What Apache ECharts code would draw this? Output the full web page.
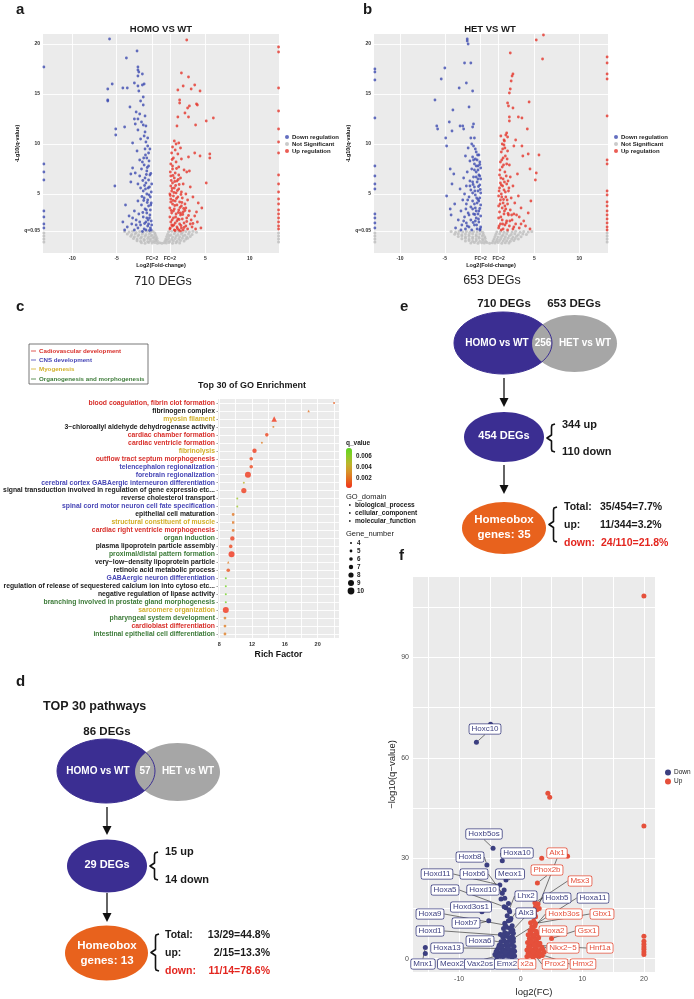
<!DOCTYPE html>
<html>
<head>
<meta charset="utf-8">
<script src="https://cdn.jsdelivr.net/npm/echarts@6/dist/echarts.min.js"></script>
<style>
  html, body { margin: 0; padding: 0; background: #fff; }
  #main { width: 694px; height: 999px; }
</style>
</head>
<body>
<div id="main"></div>
<script>
// ---------- panel a : HOMO vs WT volcano ----------
const aDown = [[-13.2,17.7],[-13.2,8.0],[-13.2,7.2],[-13.2,6.4],[-13.2,3.3],[-13.2,2.7],[-13.2,2.0],[-13.2,1.6],
  [-5.8,20.5],[-2.7,19.3],[-3.9,18.6],[-2.6,17.7],[-2.6,17.4],[-2.5,17.2],[-2.1,17.0],[-2.6,16.8],[-5.5,16.0],[-3.0,16.1],
  [-6.0,15.5],[-6.0,14.4],[-6.0,14.3],[-4.3,15.6],[-3.8,15.6],[-2.6,15.8],[-2.1,15.9],[-1.9,16.0],[-2.5,15.3],[-2.0,14.7],
  [-2.3,14.3],[-3.5,13.7],[-2.0,13.9],[-2.8,13.2],[-2.4,13.0],[-1.8,12.8],[-3.0,12.5],[-2.6,12.5],[-2.2,12.2],[-2.0,11.9],
  [-1.7,11.8],[-2.9,12.0],[-4.1,11.7],[-5.1,11.5],[-5.1,10.9],[-2.6,11.4],[-1.8,11.2],[-1.9,10.8],[-3.2,10.1],[-2.3,10.5],
  [-1.7,10.2],[-1.5,9.8],[-1.8,9.5],[-2.7,9.3],[-1.4,9.1],[-1.6,8.6],[-2.4,8.4],[-2.1,8.2],[-1.9,7.9],[-1.4,7.8],[-2.2,7.5],
  [-1.6,7.3],[-3.2,7.6],[-3.4,7.0],[-2.9,7.1],[-2.4,6.8],[-1.8,6.6],[-1.4,6.4],[-3.4,6.2],[-2.6,6.0],[-1.7,6.1],[-5.2,5.8],
  [-2.3,5.6],[-1.3,5.7],[-1.1,5.2],[-1.6,5.0],[-2.0,5.3],[-1.2,4.7],[-1.5,4.4],[-1.9,4.6],[-2.6,4.3],[-1.1,4.1],[-1.4,3.8],
  [-1.8,3.5],[-2.2,3.9],[-4.0,3.9],[-3.0,3.3],[-1.2,3.4],[-1.6,3.1],[-2.5,3.0],[-3.6,2.8],[-2.0,2.7],[-1.3,2.6],[-1.1,2.3],
  [-1.7,2.2],[-2.8,2.4],[-4.3,2.2],[-3.3,2.0],[-2.3,1.9],[-1.5,1.8],[-1.2,1.6],[-1.9,1.5],[-2.6,1.6],[-3.8,1.7],[-4.1,1.4],
  [-3.0,1.4],[-1.1,1.4],[-1.4,2.0],
  [-1.05,1.9],[-1.25,2.9],[-1.45,2.4],[-1.65,3.4],[-1.85,2.05],[-2.05,3.15],[-1.15,3.9],[-1.35,4.9],[-1.55,4.15],[-1.75,5.5],
  [-1.95,4.35],[-2.15,4.75],[-1.05,6.0],[-1.25,6.9],[-1.45,5.6],[-1.65,6.95],[-1.85,5.85],[-2.05,6.35],[-1.15,7.05],[-1.35,8.3],
  [-1.55,7.65],[-1.75,8.9],[-1.95,8.6],[-1.25,9.5],[-1.5,10.6],[-1.3,1.35],[-1.7,1.4],[-2.4,2.2],[-2.8,1.9],[-3.2,2.6],
  [-2.1,1.25],[-1.6,2.6]];
const aUp = [[13.25,19.7],[13.25,19.2],[13.25,15.6],[13.25,13.3],[13.25,11.5],[13.25,10.2],[13.25,9.1],[13.25,6.9],[13.25,6.0],
  [13.25,5.2],[13.25,4.5],[13.25,4.0],[13.25,3.4],[13.25,3.0],[13.25,2.6],[13.25,2.2],[13.25,1.8],[13.25,1.5],
  [2.9,20.4],[2.3,17.1],[3.1,16.7],[2.5,15.8],[1.9,15.4],[3.8,15.9],[4.4,15.3],[3.4,15.5],[2.1,14.4],[2.1,14.1],[3.2,13.8],
  [3.0,13.6],[4.0,14.0],[4.1,13.9],[2.7,13.1],[1.9,12.7],[3.1,12.7],[5.1,12.3],[5.9,12.6],[3.9,11.9],[1.8,11.8],[1.5,10.3],
  [1.7,10.0],[2.0,10.1],[1.3,9.7],[1.6,9.4],[2.2,9.6],[1.2,9.1],[1.9,9.0],[1.4,8.6],[2.3,8.5],[1.7,8.2],[1.1,8.0],[3.8,9.1],
  [4.4,8.8],[5.5,9.0],[5.5,8.6],[3.1,8.7],[2.0,7.7],[1.3,7.5],[2.6,7.4],[2.9,7.2],[3.2,7.3],[1.6,7.1],[1.1,6.8],[2.2,6.6],
  [1.8,6.3],[1.3,6.1],[5.1,6.1],[2.5,6.0],[1.1,5.8],[1.5,5.6],[2.0,5.5],[1.2,5.3],[1.7,5.1],[2.3,5.2],[1.0,5.0],[1.4,4.8],
  [1.9,4.7],[2.4,4.6],[1.1,4.5],[1.6,4.3],[2.1,4.2],[3.0,4.4],[3.6,4.7],[1.3,4.0],[1.8,3.9],[2.3,3.8],[2.8,3.6],[4.2,4.1],
  [4.6,3.6],[1.0,3.6],[1.5,3.5],[2.0,3.4],[2.5,3.2],[3.2,3.3],[1.2,3.1],[1.7,3.0],[2.2,2.9],[3.8,2.8],[1.0,2.7],[1.4,2.6],
  [1.9,2.5],[2.4,2.5],[2.9,2.6],[3.4,2.4],[1.1,2.2],[1.6,2.1],[2.1,2.0],[2.6,2.1],[4.1,2.2],[1.3,1.8],[1.8,1.7],[2.3,1.6],
  [2.8,1.8],[3.5,1.7],[1.0,1.5],[1.5,1.4],[2.0,1.4],[2.5,1.4],[3.0,1.5],[4.5,1.6],[1.2,1.9],[1.8,2.3],[1.4,3.3],[2.2,3.1],
  [1.1,4.2],[2.7,4.0],[1.5,6.6],[2.0,6.9],[1.3,7.8],[3.3,5.7],[2.8,5.0],[4.0,3.2],[3.3,2.0],
  [1.05,1.6],[1.25,2.4],[1.45,1.9],[1.65,2.7],[1.85,1.55],[2.05,2.45],[2.25,1.85],[2.45,2.95],[1.15,3.35],[1.35,4.35],
  [1.55,3.85],[1.75,4.55],[1.95,3.15],[2.15,3.65],[2.35,4.15],[2.55,3.55],[1.05,4.85],[1.25,5.55],[1.45,5.15],[1.65,5.85],
  [1.85,5.35],[2.05,5.95],[2.25,4.95],[1.15,6.35],[1.35,6.85],[1.55,6.25],[1.75,7.55],[1.95,6.45],[1.05,7.2],[1.25,8.45],
  [2.6,1.65],[2.9,2.25],[3.1,2.85],[2.7,3.35],[3.6,2.05],[3.9,1.5],[2.2,1.3],[1.6,1.35]];
const aGrey = [[-4.1,1.25],[-3.6,1.2],[-3.2,1.28],[-2.8,1.15],[-2.4,1.25],[-2.0,1.2],[-1.6,1.27],[-1.2,1.18],[-0.9,1.25],[-0.7,1.1],
  [0.85,1.22],[1.2,1.28],[1.6,1.2],[2.0,1.26],[2.4,1.15],[2.8,1.24],[3.2,1.2],[3.6,1.27],[4.0,1.18],
  [-3.8,1.0],[-3.3,0.95],[-2.9,1.02],[-2.5,0.92],[-2.1,1.0],[-1.7,0.96],[-1.3,1.03],[-1.0,0.9],[-0.65,0.95],
  [0.75,0.98],[1.1,0.92],[1.5,1.02],[1.9,0.94],[2.3,1.0],[2.7,0.9],[3.1,1.0],[3.5,0.95],
  [-3.4,0.78],[-3.0,0.72],[-2.6,0.8],[-2.2,0.7],[-1.8,0.77],[-1.4,0.72],[-1.1,0.8],[-0.8,0.7],[-0.55,0.76],
  [0.65,0.74],[0.95,0.8],[1.3,0.7],[1.7,0.78],[2.1,0.72],[2.5,0.8],[2.9,0.7],[3.3,0.76],
  [-3.1,0.55],[-2.7,0.5],[-2.3,0.58],[-1.9,0.48],[-1.5,0.55],[-1.2,0.5],[-0.9,0.57],[-0.6,0.48],[-0.45,0.55],
  [0.55,0.5],[0.85,0.56],[1.2,0.48],[1.6,0.55],[2.0,0.5],[2.4,0.57],[2.8,0.5],[3.0,0.58],
  [-2.7,0.32],[-2.3,0.28],[-1.9,0.35],[-1.5,0.26],[-1.2,0.33],[-0.9,0.28],[-0.6,0.34],[-0.4,0.3],
  [0.45,0.3],[0.7,0.35],[1.0,0.27],[1.4,0.33],[1.8,0.28],[2.2,0.34],[2.6,0.29],
  [-2.2,0.12],[-1.8,0.08],[-1.4,0.14],[-1.0,0.1],[-0.7,0.15],[-0.4,0.08],[-0.15,0.12],[0.1,0.07],[0.35,0.13],[0.6,0.09],
  [0.9,0.14],[1.3,0.08],[1.7,0.13],[2.1,0.1],
  [-13.2,0.2],[-13.2,0.5],[-13.2,0.8],[-13.2,1.1],[13.25,0.2],[13.25,0.5],[13.25,0.8],[13.25,1.1]];

// ---------- panel b : HET vs WT volcano ----------
const bDown = [[-12.8,17.5],[-12.8,17.2],[-12.8,16.4],[-12.8,12.6],[-12.8,7.8],[-12.8,6.8],[-12.8,6.0],[-12.8,5.5],[-12.8,3.0],
  [-12.8,2.6],[-12.8,2.1],[-12.8,1.6],
  [-2.5,20.5],[-2.5,20.3],[-2.4,20.0],[-2.8,18.1],[-2.1,18.1],[-5.0,17.6],[-5.4,16.5],[-2.6,16.1],[-3.4,15.6],[-1.9,15.3],
  [-6.1,14.4],[-4.1,13.4],[-2.3,13.7],[-4.5,12.2],[-5.9,11.8],[-5.8,11.5],[-4.2,11.3],[-3.3,11.8],[-3.0,11.8],[-2.9,11.5],
  [-1.8,12.0],[-1.9,11.7],[-4.9,10.6],[-4.8,9.8],[-2.1,10.6],[-1.7,10.6],[-2.0,10.0],[-1.8,9.8],[-2.4,9.6],[-2.7,8.8],
  [-1.5,9.2],[-1.2,8.9],[-1.9,8.7],[-1.4,8.4],[-1.1,8.2],[-2.2,8.3],[-1.7,8.0],[-1.3,7.8],[-1.0,7.6],[-2.0,7.5],[-4.4,7.5],
  [-4.0,7.0],[-2.5,7.2],[-1.5,7.2],[-1.2,6.9],[-1.8,6.7],[-2.9,6.6],[-1.0,6.5],[-2.2,6.3],[-1.4,6.2],[-4.2,6.0],[-1.1,5.9],
  [-2.6,5.8],[-1.7,5.7],[-3.3,5.5],[-2.1,5.4],[-1.3,5.3],[-1.0,5.1],[-2.8,5.0],[-4.8,4.8],[-1.6,4.9],[-2.3,4.7],[-1.1,4.6],
  [-3.0,4.4],[-1.9,4.3],[-1.4,4.1],[-3.9,4.0],[-2.6,4.0],[-1.0,3.9],[-2.1,3.7],[-1.6,3.6],[-4.4,3.5],[-3.2,3.3],[-1.2,3.3],
  [-2.4,3.1],[-1.8,3.0],[-4.3,2.9],[-1.0,2.8],[-2.8,2.7],[-1.5,2.6],[-3.5,2.4],[-2.1,2.4],[-1.2,2.2],[-2.6,2.1],[-3.1,1.9],
  [-1.7,1.9],[-1.0,1.7],[-2.3,1.7],[-3.8,1.6],[-1.4,1.5],[-2.0,1.4],[-3.2,1.4],[-2.7,1.5],[-1.1,1.4],[-1.6,2.3],[-1.3,3.0],
  [-1.9,5.1],[-1.2,4.3],[-1.5,6.7],[-1.3,7.4],[-1.6,8.5],
  [-1.05,1.5],[-1.25,2.5],[-1.45,1.9],[-1.65,2.95],[-1.85,2.15],[-1.1,3.55],[-1.3,4.45],[-1.5,3.3],[-1.7,4.0],[-1.9,3.5],
  [-1.05,5.45],[-1.25,5.75],[-1.45,4.6],[-1.65,5.3],[-1.85,5.95],[-1.1,6.8],[-1.3,6.5],[-1.5,7.8],[-1.7,7.4],[-1.9,6.2],
  [-1.1,7.95],[-1.35,8.9],[-1.6,9.5],[-1.8,8.4],[-2.3,2.9],[-2.5,1.8],[-2.9,2.3],[-2.45,4.4],[-2.65,3.5],[-2.2,5.8]];
const bUp = [[13.1,18.7],[13.1,18.1],[13.1,17.0],[13.1,16.5],[13.1,12.8],[13.1,8.4],[13.1,8.0],[13.1,5.3],[13.1,4.9],[13.1,4.2],
  [13.1,3.8],[13.1,3.3],[13.1,2.9],[13.1,2.5],[13.1,2.1],[13.1,1.7],[13.1,1.4],
  [6.0,20.9],[5.2,20.4],[5.9,18.5],[2.3,19.1],[2.6,17.0],[2.5,16.8],[2.4,16.3],[2.3,15.5],[2.2,15.1],[4.4,14.2],[2.0,14.1],
  [2.1,13.8],[2.6,13.6],[3.2,12.7],[3.6,12.6],[2.2,12.7],[2.2,12.3],[4.2,11.5],[1.9,11.1],[1.8,10.9],[2.0,10.7],[1.6,10.4],
  [2.9,10.4],[1.4,10.0],[3.6,9.8],[2.7,9.8],[1.7,9.6],[1.3,9.2],[2.0,9.3],[4.3,9.0],[3.7,8.8],[5.5,8.9],[1.5,8.6],[1.2,8.2],
  [1.9,8.0],[1.4,7.7],[4.5,7.5],[5.2,7.1],[5.1,6.4],[3.1,7.0],[1.7,7.2],[1.1,6.9],[2.3,6.7],[1.5,6.5],[1.2,6.1],[1.9,6.0],
  [2.6,5.8],[1.1,5.6],[1.6,5.4],[2.1,5.3],[1.3,5.0],[1.0,4.8],[1.8,4.7],[2.4,4.6],[3.2,4.8],[4.6,4.3],[1.2,4.4],[1.5,4.1],
  [2.0,4.0],[2.8,4.1],[1.0,3.8],[1.4,3.6],[1.8,3.5],[2.3,3.4],[3.5,3.6],[4.3,3.1],[1.1,3.2],[1.6,3.0],[2.1,2.9],[2.7,3.0],
  [3.3,2.7],[1.0,2.6],[1.4,2.4],[1.9,2.3],[2.5,2.4],[3.8,2.3],[1.2,2.0],[1.7,1.9],[2.2,1.8],[2.9,2.0],[4.0,1.8],[1.0,1.6],
  [1.5,1.5],[2.0,1.4],[2.6,1.5],[3.3,1.6],[1.3,1.4],[1.7,3.8],[1.3,5.9],[2.2,7.9],[1.6,9.9],
  [1.05,1.8],[1.25,2.7],[1.45,2.0],[1.65,3.3],[1.85,2.1],[2.05,3.05],[2.25,2.3],[1.15,4.0],[1.35,4.7],[1.55,4.45],
  [1.75,5.2],[1.95,4.4],[2.15,5.6],[1.05,5.3],[1.25,6.6],[1.45,5.8],[1.65,6.2],[1.85,6.8],[2.05,6.3],[1.15,7.4],
  [1.35,8.4],[1.55,7.9],[1.75,8.8],[1.95,8.5],[1.45,9.5],[1.65,10.3],[1.25,10.8],[2.45,2.9],[2.7,1.7],[3.0,2.9],
  [3.5,2.0],[4.5,1.5]];
const bGrey = [[-4.3,1.24],[-3.8,1.18],[-3.4,1.27],[-3.0,1.2],[-2.6,1.26],[-2.2,1.17],[-1.8,1.25],[-1.4,1.2],[-1.0,1.27],[-0.75,1.15],
  [0.8,1.2],[1.2,1.26],[1.6,1.17],[2.0,1.25],[2.5,1.2],[2.9,1.27],[3.4,1.18],[3.8,1.24],[4.3,1.2],[4.7,1.26],
  [-3.9,0.97],[-3.5,1.02],[-3.1,0.93],[-2.7,1.0],[-2.3,0.95],[-1.9,1.02],[-1.5,0.92],[-1.1,0.99],[-0.7,0.94],
  [0.7,0.97],[1.1,1.02],[1.5,0.93],[1.9,1.0],[2.4,0.95],[2.8,1.02],[3.2,0.92],[3.7,0.99],[4.1,0.95],
  [-3.5,0.75],[-3.1,0.8],[-2.7,0.72],[-2.3,0.78],[-1.9,0.7],[-1.5,0.77],[-1.2,0.71],[-0.85,0.79],[-0.55,0.73],
  [0.6,0.76],[0.95,0.7],[1.35,0.78],[1.75,0.72],[2.2,0.8],[2.6,0.71],[3.0,0.77],[3.5,0.73],
  [-3.1,0.52],[-2.7,0.57],[-2.3,0.49],[-1.9,0.56],[-1.5,0.5],[-1.15,0.58],[-0.8,0.49],[-0.5,0.55],
  [0.5,0.53],[0.85,0.48],[1.25,0.56],[1.65,0.5],[2.05,0.57],[2.45,0.49],[2.85,0.55],[3.2,0.5],
  [-2.7,0.3],[-2.3,0.35],[-1.9,0.27],[-1.5,0.33],[-1.1,0.28],[-0.75,0.35],[-0.45,0.27],
  [0.4,0.32],[0.75,0.27],[1.1,0.35],[1.5,0.29],[1.9,0.33],[2.3,0.27],[2.7,0.34],
  [-2.1,0.1],[-1.7,0.14],[-1.3,0.07],[-0.9,0.12],[-0.6,0.09],[-0.3,0.14],[0.0,0.08],[0.3,0.13],[0.6,0.1],[0.95,0.15],
  [1.35,0.08],[1.75,0.12],[2.15,0.09],
  [-12.8,0.2],[-12.8,0.5],[-12.8,0.8],[-12.8,1.1],[13.1,0.2],[13.1,0.5],[13.1,0.8],[13.1,1.1]];

const volYTicks = [1.3, 5, 10, 15, 20];
const volXTicks = [-10, -5, -1, 1, 5, 10];

// ---------- panel c : GO enrichment ----------
const goTerms = ['blood coagulation, fibrin clot formation', 'fibrinogen complex', 'myosin filament',
  '3\u2212chloroallyl aldehyde dehydrogenase activity', 'cardiac chamber formation', 'cardiac ventricle formation',
  'fibrinolysis', 'outflow tract septum morphogenesis', 'telencephalon regionalization', 'forebrain regionalization',
  'cerebral cortex GABAergic interneuron differentiation', 'signal transduction involved in regulation of gene expressio etc...',
  'reverse cholesterol transport', 'spinal cord motor neuron cell fate specification', 'epithelial cell maturation',
  'structural constituent of muscle', 'cardiac right ventricle morphogenesis', 'organ induction',
  'plasma lipoprotein particle assembly', 'proximal/distal pattern formation', 'very\u2212low\u2212density lipoprotein particle',
  'retinoic acid metabolic process', 'GABAergic neuron differentiation',
  'regulation of release of sequestered calcium ion into cytoso etc...', 'negative regulation of lipase activity',
  'branching involved in prostate gland morphogenesis', 'sarcomere organization', 'pharyngeal system development',
  'cardioblast differentiation', 'intestinal epithelial cell differentiation'];
const goGroup = [1,0,3,0,1,1,3,1,2,2,2,0,0,2,0,3,1,4,0,4,0,0,2,0,0,4,3,4,1,4];
const goRich = [22.0,18.9,14.7,14.6,13.8,13.2,12.3,11.9,11.9,11.5,11.0,11.0,10.2,10.2,9.7,9.7,9.7,9.6,9.4,9.5,9.1,9.1,8.8,8.8,8.8,8.8,8.8,8.7,8.7,8.7];
const goQ = [0.0015,0.002,0.0005,0.0025,0.0008,0.0025,0.0006,0.0009,0.0009,0.0005,0.0045,0.0006,0.0055,0.0055,0.0022,
  0.0022,0.0020,0.0007,0.0009,0.0004,0.0025,0.0012,0.0068,0.0068,0.0068,0.0068,0.0004,0.0025,0.0025,0.0025];
const goGenes = [4,4,7,4,6,4,7,6,6,9,4,8,4,4,5,5,5,7,6,9,4,6,4,4,4,4,9,5,5,5];
const goDomain = [0,1,1,2,0,0,0,0,0,0,0,0,0,0,0,2,0,0,0,0,1,0,0,0,0,0,0,0,0,0];
const goGroupNames = ['Cadiovascular development', 'CNS development', 'Myogenesis', 'Organogenesis and morphogenesis'];
const goDomainNames = ['biological_process', 'cellular_component', 'molecular_function'];
const qTicks = [0.006, 0.004, 0.002];
const geneTicks = [4, 5, 6, 7, 8, 9, 10];
const richTicks = [8, 12, 16, 20];

// ---------- panel f : homeobox volcano ----------
const fDown = [[-4.9,70],[-15.5,1.5],[-3.9,0.5],[-3.4,0.8],[-2.9,0.6],[-2.4,0.9],[-1.9,0.7],[-1.4,0.5],[-1.0,0.8],[-3.6,1.6],
  [-3.1,1.9],[-2.6,1.7],[-2.1,1.5],[-1.6,1.8],[-1.2,1.4],[-3.8,2.7],[-3.3,3.0],[-2.8,2.6],[-2.3,2.9],[-1.8,2.5],[-1.3,2.8],
  [-1.0,2.2],[-3.5,4.0],[-3.0,3.7],[-2.5,4.1],[-2.0,3.8],[-1.5,4.2],[-1.1,3.6],[-3.2,5.0],[-2.7,5.3],[-2.2,4.9],[-1.7,5.4],
  [-1.2,5.1],[-2.9,6.3],[-2.4,6.7],[-1.9,6.2],[-1.4,6.6],[-3.3,7.2],[-2.6,7.8],[-2.1,7.4],[-1.6,8.0],[-1.2,7.6],[-2.8,9.0],
  [-2.3,9.4],[-1.8,9.1],[-1.4,9.8],[-2.6,10.6],[-2.0,11.3],[-1.6,12.0],[-2.2,12.8],[-1.8,14.0],[-2.4,15.2],[-2.0,16.5],
  [-3.2,17.8],[-2.7,20.5],[-2.2,25.5],[-3.6,3.3],[-4.2,1.2],[-4.0,2.1]];
const fUp = [[1.0,0.6],[1.5,0.9],[2.0,0.5],[2.5,0.8],[3.0,0.6],[3.5,0.9],[1.2,1.6],[1.7,1.9],[2.2,1.5],[2.7,1.8],[3.2,1.4],
  [1.0,2.6],[1.5,2.9],[2.0,2.5],[2.5,2.8],[3.0,2.4],[3.6,2.7],[1.3,3.7],[1.8,4.0],[2.3,3.6],[2.8,3.9],[3.4,3.5],[1.1,4.8],
  [1.6,5.1],[2.1,4.7],[2.6,5.0],[3.1,4.6],[1.4,6.0],[1.9,6.3],[2.4,5.9],[2.9,6.2],[1.2,7.1],[1.7,7.4],[2.2,7.0],[2.7,7.3],
  [1.5,8.3],[2.0,8.6],[2.5,8.2],[1.8,9.5],[2.3,9.8],[1.6,10.7],[2.1,11.2],[2.4,12.5],[2.2,13.6],[2.6,14.6],[2.4,15.5],
  [2.8,16.3],[3.0,15.0],[20,1.2],[20,2.0],[20,2.8],[20,3.5],[20,4.3],[20,5.2],[20,6.7],[20,39.6],[20,108.3],[4.4,49.4],
  [4.7,48.2],[3.4,30.0],[7.6,30.6],[1.3,3.1],[3.8,1.9]];
const fDownGenes = ['Hoxc10','Hoxb5os','Hoxa10','Hoxb8','Meox1','Hoxd11','Hoxb6','Hoxd10','Hoxa5','Lhx2','Hoxd3os1','Alx3',
  'Hoxa9','Hoxb7','Hoxd1','Hoxa6','Hoxa13','Mnx1','Meox2','Vax2os','Emx2','Hoxb5','Hoxa11'];
const fDownFC = [-7.2,-4.5,-3.0,-5.5,-2.4,-3.4,-3.0,-2.6,-2.7,-1.9,-6.3,-1.7,-2.5,-5.2,-3.0,-2.2,-2.0,-15.5,-3.5,-2.5,-1.5,-1.3,-1.2];
const fDownQ = [64.6,33.0,29.2,28.0,23.5,22.0,19.5,18.0,15.5,14.5,14.0,11.5,10.0,11.3,7.0,4.5,3.0,3.3,1.0,2.0,1.5,8.5,6.0];
const fUpGenes = ['Alx1','Phox2b','Msx3','Hoxb3os','Gbx1','Hoxa2','Gsx1','Nkx2\u22125','Hnf1a','x2a','Prox2','Hmx2'];
const fUpFC = [2.3,2.7,2.3,2.0,2.4,2.1,5.0,1.8,2.2,1.5,1.7,2.0];
const fUpQ = [13.0,22.6,16.7,9.0,10.5,7.0,6.0,5.0,4.0,1.0,2.5,2.0];

// label boxes of panel f (pixel centres, layout only)
const fLabelAt = {
  Hoxc10:[485,729], Hoxb5os:[484,834], Hoxa10:[517,853], Hoxb8:[470,857], Hoxd11:[437,874], Hoxb6:[474,874],
  Meox1:[510,874], Hoxa5:[445,890], Hoxd10:[483,890], Lhx2:[526,896], Hoxd3os1:[471,907], Alx3:[526,913],
  Hoxa9:[430,914], Hoxb7:[466,923], Hoxd1:[430,931], Hoxa6:[480,941], Hoxa13:[447,948], Mnx1:[423,964],
  Meox2:[452,964], Vax2os:[480,964], Emx2:[507,964], Hoxb5:[557,898], Hoxa11:[593,898],
  Alx1:[557,853], Phox2b:[547,870], Msx3:[580,881], Hoxb3os:[564,914], Gbx1:[602,914], Hoxa2:[553,931],
  Gsx1:[587,931], 'Nkx2\u22125':[563,948], Hnf1a:[600,948], x2a:[527,964], Prox2:[555,964], Hmx2:[583,964]
};

const FONT = '"Liberation Sans", Arial, Helvetica, sans-serif';
const BLUE = '#3d4bb0', RED = '#e5342a', GREY = '#bdbdbd';
const NAVY = '#3c3f80', CORAL = '#e5503b';
const groupColor = ['#1a1a1a', '#d8302b', '#4746b6', '#d2b02a', '#3d7b39'];
const INDIGO = '#3b2e92', VGREY = '#a6a6a6', ORANGE = '#e8621d', TXTRED = '#e3261f';

// ---------- graphic helpers ----------
function txt(x, y, s, o) {
  o = o || {};
  return {
    type: 'text', x: x, y: y, z: 50, silent: true, rotation: o.rot || 0,
    style: {
      text: s, fill: o.fill || '#1a1a1a', fontSize: o.size || 10, fontWeight: o.weight || 'bold',
      fontFamily: FONT, textAlign: o.align || 'left', align: o.align || 'left',
      textVerticalAlign: 'middle', verticalAlign: 'middle'
    }
  };
}
function ell(cx, cy, rx, ry, fill, stroke) {
  return {
    type: 'ellipse', z: 20, silent: true, shape: { cx: cx, cy: cy, rx: rx, ry: ry },
    style: { fill: fill || 'none', stroke: stroke || 'none', lineWidth: 1 }
  };
}
function arrow(x, y1, y2) {
  return [
    { type: 'line', z: 20, silent: true, shape: { x1: x, y1: y1, x2: x, y2: y2 - 6 }, style: { stroke: '#111', lineWidth: 1.3 } },
    { type: 'polygon', z: 20, silent: true, shape: { points: [[x - 4.5, y2 - 9], [x + 4.5, y2 - 9], [x, y2]] }, style: { fill: '#111' } }
  ];
}
function brace(x, y1, y2) {
  const m = (y1 + y2) / 2;
  return {
    type: 'polyline', z: 20, silent: true,
    shape: { points: [[x + 8, y1], [x + 5, y1 + 1], [x + 4.5, y1 + 3], [x + 4.5, m - 3], [x, m], [x + 4.5, m + 3],
      [x + 4.5, y2 - 3], [x + 5, y2 - 1], [x + 8, y2]] },
    style: { stroke: '#111', lineWidth: 1.6, fill: 'none', lineJoin: 'round' }
  };
}

const g = [];
// panel letters
[['a', 16, 10], ['b', 363, 10], ['c', 16, 307], ['d', 16, 682], ['e', 400, 307], ['f', 399, 556]].forEach(function (p) {
  g.push(txt(p[1], p[2], p[0], { size: 15 }));
});
g.push(txt(161, 29, 'HOMO VS WT', { size: 9.5, align: 'center' }));
g.push(txt(490, 29, 'HET VS WT', { size: 9.5, align: 'center' }));
g.push(txt(163, 282, '710 DEGs', { size: 12.5, weight: 'normal', align: 'center', fill: '#222' }));
g.push(txt(492, 281, '653 DEGs', { size: 12.5, weight: 'normal', align: 'center', fill: '#222' }));

// panel c: group legend box
g.push({ type: 'rect', z: 20, silent: true, shape: { x: 29, y: 344, width: 119, height: 40 },
  style: { fill: 'none', stroke: '#555', lineWidth: 0.8 } });
goGroupNames.forEach(function (nm, i) {
  const y = [351, 360, 369, 379][i];
  g.push({ type: 'line', z: 20, silent: true, shape: { x1: 31, y1: y, x2: 36, y2: y }, style: { stroke: groupColor[i + 1], lineWidth: 0.8 } });
  g.push(txt(39, y, nm, { size: 6.2, fill: groupColor[i + 1] }));
});
g.push(txt(252, 386, 'Top 30 of GO Enrichment', { size: 9, align: 'center' }));
g.push(txt(346, 443, 'q_value', { size: 6.5 }));
qTicks.forEach(function (q) {
  // colour bar spans 0.0003 (y=488) .. 0.0074 (y=448)
  const y = 488 - (q - 0.0003) / (0.0074 - 0.0003) * 40;
  g.push({ type: 'line', z: 20, silent: true, shape: { x1: 352, y1: y, x2: 354, y2: y }, style: { stroke: '#fff', lineWidth: 0.6 } });
  g.push(txt(356, y, String(q), { size: 6.3 }));
});
g.push(txt(346, 497, 'GO_domain', { size: 7.5, weight: 'normal' }));
goDomainNames.forEach(function (nm, i) {
  const y = 505 + i * 8;
  g.push({ type: 'rect', z: 20, silent: true, shape: { x: 349, y: y - 0.8, width: 1.6, height: 1.6 }, style: { fill: '#111' } });
  g.push(txt(355, y, nm, { size: 6.6 }));
});
g.push(txt(346, 534, 'Gene_number', { size: 7.5, weight: 'normal' }));
geneTicks.forEach(function (n, i) {
  const y = 543 + i * 8;
  g.push({ type: 'circle', z: 20, silent: true, shape: { cx: 351, cy: y, r: (2 + (n - 4) * 0.8) / 2 }, style: { fill: '#111' } });
  g.push(txt(357, y, String(n), { size: 6.3 }));
});

// panel d
g.push(txt(43, 707, 'TOP 30 pathways', { size: 12.5 }));
g.push(txt(107, 732, '86 DEGs', { size: 11.5, align: 'center' }));
g.push(ell(106, 771, 49, 32, INDIGO));
g.push(ell(177.5, 772, 42.5, 29, VGREY));
g.push(ell(106, 771, 49, 32, null, INDIGO));
g.push(txt(98, 771, 'HOMO vs WT', { size: 10, align: 'center', fill: '#fff' }));
g.push(txt(145, 771, '57', { size: 10, align: 'center', fill: '#fff' }));
g.push(txt(188, 771, 'HET vs WT', { size: 10, align: 'center', fill: '#fff' }));
Array.prototype.push.apply(g, arrow(107, 807, 835));
g.push(ell(107, 866, 40, 26.5, INDIGO));
g.push(txt(107, 865, '29 DEGs', { size: 11, align: 'center', fill: '#fff' }));
g.push(brace(150, 852, 880));
g.push(txt(165, 852, '15 up', { size: 11 }));
g.push(txt(165, 880, '14 down', { size: 11 }));
Array.prototype.push.apply(g, arrow(107, 893, 922));
g.push(ell(106.5, 953, 41.5, 27.5, ORANGE));
g.push(txt(107, 946, 'Homeobox', { size: 11.5, align: 'center', fill: '#fff' }));
g.push(txt(107, 961, 'genes: 13', { size: 11.5, align: 'center', fill: '#fff' }));
g.push(brace(151, 934, 971));
g.push(txt(165, 935, 'Total:', { size: 10.5 }));
g.push(txt(270, 935, '13/29=44.8%', { size: 10.5, align: 'right' }));
g.push(txt(165, 953, 'up:', { size: 10.5 }));
g.push(txt(270, 953, '2/15=13.3%', { size: 10.5, align: 'right' }));
g.push(txt(165, 971, 'down:', { size: 10.5, fill: TXTRED }));
g.push(txt(270, 971, '11/14=78.6%', { size: 10.5, align: 'right', fill: TXTRED }));

// panel e
g.push(txt(504, 304, '710 DEGs', { size: 11.5, align: 'center' }));
g.push(txt(574, 304, '653 DEGs', { size: 11.5, align: 'center' }));
g.push(ell(503, 343, 49, 31, INDIGO));
g.push(ell(574.5, 343.5, 42.5, 28.5, VGREY));
g.push(ell(503, 343, 49, 31, null, INDIGO));
g.push(txt(497, 343, 'HOMO vs WT', { size: 10, align: 'center', fill: '#fff' }));
g.push(txt(543, 343, '256', { size: 10, align: 'center', fill: '#fff' }));
g.push(txt(585, 343, 'HET vs WT', { size: 10, align: 'center', fill: '#fff' }));
Array.prototype.push.apply(g, arrow(504, 378, 407));
g.push(ell(504, 437, 40, 25, INDIGO));
g.push(txt(504, 436, '454 DEGs', { size: 11, align: 'center', fill: '#fff' }));
g.push(brace(547, 424, 452));
g.push(txt(562, 425, '344 up', { size: 11 }));
g.push(txt(562, 452, '110 down', { size: 11 }));
Array.prototype.push.apply(g, arrow(504, 465, 494));
g.push(ell(504, 528, 42, 26, ORANGE));
g.push(txt(504, 520, 'Homeobox', { size: 11.5, align: 'center', fill: '#fff' }));
g.push(txt(504, 535, 'genes: 35', { size: 11.5, align: 'center', fill: '#fff' }));
g.push(brace(549, 507, 542));
g.push(txt(564, 507, 'Total:', { size: 10.5 }));
g.push(txt(600, 507, '35/454=7.7%', { size: 10.5 }));
g.push(txt(564, 525, 'up:', { size: 10.5 }));
g.push(txt(600, 525, '11/344=3.2%', { size: 10.5 }));
g.push(txt(564, 543, 'down:', { size: 10.5, fill: TXTRED }));
g.push(txt(601, 543, '24/110=21.8%', { size: 10.5, fill: TXTRED }));

// ---------- axes ----------
const smallBold = { fontSize: 5, fontWeight: 'bold', color: '#333', fontFamily: FONT };
function volX(gi, mn, mx) {
  return {
    type: 'value', gridIndex: gi, min: mn, max: mx,
    name: 'Log2(Fold-change)', nameLocation: 'middle', nameGap: 9,
    nameTextStyle: { fontSize: 5.5, fontWeight: 'bold', color: '#111', fontFamily: FONT },
    axisLine: { show: false, onZero: false },
    axisTick: { show: false, customValues: volXTicks },
    axisLabel: Object.assign({ customValues: volXTicks, margin: 3,
      formatter: function (v) { return Math.abs(v) === 1 ? 'FC=2' : String(v); } }, smallBold),
    splitLine: { show: true, lineStyle: { color: '#fff', width: 0.9 } }
  };
}
function volY(gi) {
  return {
    type: 'value', gridIndex: gi, min: -0.9, max: 21,
    name: '-Lg10(q-value)', nameLocation: 'middle', nameGap: 15,
    nameTextStyle: { fontSize: 5.5, fontWeight: 'bold', color: '#111', fontFamily: FONT },
    axisLine: { show: false, onZero: false },
    axisTick: { show: false, customValues: volYTicks },
    axisLabel: Object.assign({ customValues: volYTicks, margin: 3,
      formatter: function (v) { return v === 1.3 ? 'q=0.05' : String(v); } }, smallBold),
    splitLine: { show: true, lineStyle: { color: '#fff', width: 0.9 } }
  };
}

function goPoint(i) { return [goRich[i], i, goQ[i], goDomain[i], goGenes[i]]; }
const goData = goTerms.map(function (t, i) { return goPoint(i); });
const goIdx = goTerms.map(function (t, i) { return i; });

function labeled(genes, fc, q) {
  return genes.map(function (nm, i) { return { name: nm, value: [fc[i], q[i]], label: { show: true } }; });
}
const fDownData = fDown.map(function (p) { return { value: p }; }).concat(labeled(fDownGenes, fDownFC, fDownQ));
const fUpData = fUp.map(function (p) { return { value: p }; }).concat(labeled(fUpGenes, fUpFC, fUpQ));
function placeLabels(items) {
  return function (p) {
    const it = items[p.dataIndex];
    if (!it || !it.name || !fLabelAt[it.name]) return {};
    const at = fLabelAt[it.name];
    return { x: at[0], y: at[1], align: 'center', verticalAlign: 'middle' };
  };
}
function fSeries(name, data, color) {
  return {
    name: name, type: 'scatter', xAxisIndex: 3, yAxisIndex: 3, data: data, symbolSize: 5,
    itemStyle: { color: color, opacity: 1 },
    label: { show: false, formatter: '{b}', color: color, fontSize: 8, fontFamily: FONT,
      backgroundColor: '#fff', borderColor: color, borderWidth: 0.8, borderRadius: 1.5, padding: [1, 2, 0.5, 2] },
    labelLine: { show: true, lineStyle: { color: '#222', width: 0.6 } },
    labelLayout: placeLabels(data)
  };
}

const option = {
  animation: false,
  backgroundColor: '#fff',
  textStyle: { fontFamily: FONT },
  grid: [
    { left: 43, top: 34, width: 236, height: 219, show: true, backgroundColor: '#ebebeb', borderWidth: 0 },
    { left: 374, top: 34, width: 234, height: 219, show: true, backgroundColor: '#ebebeb', borderWidth: 0 },
    { left: 218, top: 399, width: 121, height: 239, show: true, backgroundColor: '#ebebeb', borderWidth: 0 },
    { left: 413, top: 577, width: 242, height: 395, show: true, backgroundColor: '#ebebeb', borderWidth: 0 }
  ],
  xAxis: [
    volX(0, -13.3, 13.3),
    volX(1, -12.9, 13.2),
    {
      type: 'value', gridIndex: 2, min: 7.85, max: 22.6,
      name: 'Rich Factor', nameLocation: 'middle', nameGap: 12,
      nameTextStyle: { fontSize: 8.7, fontWeight: 'bold', color: '#111', fontFamily: FONT },
      axisLine: { show: false, onZero: false },
      axisTick: { show: false, customValues: [8, 10, 12, 14, 16, 18, 20, 22] },
      axisLabel: { customValues: richTicks, fontSize: 5.5, fontWeight: 'bold', color: '#333', margin: 3 },
      splitLine: { show: true, lineStyle: { color: '#fff', width: 0.9 } }
    },
    {
      type: 'value', gridIndex: 3, min: -17.5, max: 21.8,
      name: 'log2(FC)', nameLocation: 'middle', nameGap: 15,
      nameTextStyle: { fontSize: 9.5, color: '#222', fontFamily: FONT },
      axisLine: { show: false, onZero: false },
      axisTick: { show: false, customValues: [-15, -10, -5, 0, 5, 10, 15, 20] },
      axisLabel: { customValues: [-10, 0, 10, 20], fontSize: 7, color: '#4d4d4d', margin: 4 },
      splitLine: { show: true, lineStyle: { color: '#fff', width: 1 } }
    }
  ],
  yAxis: [
    volY(0),
    volY(1),
    {
      type: 'value', gridIndex: 2, min: -0.5, max: 29.5, inverse: true,
      axisLine: { show: false, onZero: false },
      axisTick: { show: true, customValues: goIdx, length: 1.5, lineStyle: { color: '#444', width: 0.5 } },
      axisLabel: {
        customValues: goIdx, fontSize: 6.8, fontWeight: 'bold', margin: 3,
        formatter: function (v) { return goTerms[v]; },
        color: function (v) { return groupColor[goGroup[v]]; }
      },
      splitLine: { show: true, lineStyle: { color: '#fff', width: 0.9 } }
    },
    {
      type: 'value', gridIndex: 3, min: -4, max: 114,
      name: '\u2212log10(q\u2212value)', nameLocation: 'middle', nameGap: 14,
      nameTextStyle: { fontSize: 9.5, color: '#222', fontFamily: FONT },
      axisLine: { show: false, onZero: false },
      axisTick: { show: false, customValues: [0, 15, 30, 45, 60, 75, 90, 105] },
      axisLabel: { customValues: [0, 30, 60, 90], fontSize: 7, color: '#4d4d4d', margin: 4 },
      splitLine: { show: true, lineStyle: { color: '#fff', width: 1 } }
    }
  ],
  legend: [
    { data: ['Down regulation', 'Not Significant', 'Up regulation'], left: 285, top: 134, orient: 'vertical',
      padding: 0, itemWidth: 4, itemHeight: 4, itemGap: 1, icon: 'circle', selectedMode: false,
      textStyle: { fontSize: 6, fontWeight: 'bold', color: '#222', padding: [0, 0, 0, -2] } },
    { data: ['Down regulation', 'Not Significant', 'Up regulation'], left: 614, top: 134, orient: 'vertical',
      padding: 0, itemWidth: 4, itemHeight: 4, itemGap: 1, icon: 'circle', selectedMode: false,
      textStyle: { fontSize: 6, fontWeight: 'bold', color: '#222', padding: [0, 0, 0, -2] } },
    { data: ['Down', 'Up'], left: 665, top: 769, orient: 'vertical', padding: 0, itemWidth: 6, itemHeight: 6,
      itemGap: 2, icon: 'circle', selectedMode: false,
      textStyle: { fontSize: 6.5, color: '#222', padding: [0, 0, 0, -2] } }
  ],
  visualMap: [{
    type: 'continuous', seriesIndex: 6, dimension: 2, min: 0.0003, max: 0.0074,
    left: 346, top: 448, itemWidth: 6, itemHeight: 40, padding: 0, calculable: false, text: null,
    inRange: { color: ['#f2301c', '#e5661e', '#d8922a', '#bdb52c', '#8ccb28', '#5ed81e'] }
  }],
  graphic: { elements: g },
  series: [
    { name: 'Not Significant', type: 'scatter', xAxisIndex: 0, yAxisIndex: 0, data: aGrey, symbolSize: 3, itemStyle: { color: GREY } },
    { name: 'Down regulation', type: 'scatter', xAxisIndex: 0, yAxisIndex: 0, data: aDown, symbolSize: 2.8, itemStyle: { color: BLUE } },
    { name: 'Up regulation', type: 'scatter', xAxisIndex: 0, yAxisIndex: 0, data: aUp, symbolSize: 2.8, itemStyle: { color: RED } },
    { name: 'Not Significant', type: 'scatter', xAxisIndex: 1, yAxisIndex: 1, data: bGrey, symbolSize: 3, itemStyle: { color: GREY } },
    { name: 'Down regulation', type: 'scatter', xAxisIndex: 1, yAxisIndex: 1, data: bDown, symbolSize: 2.8, itemStyle: { color: BLUE } },
    { name: 'Up regulation', type: 'scatter', xAxisIndex: 1, yAxisIndex: 1, data: bUp, symbolSize: 2.8, itemStyle: { color: RED } },
    {
      name: 'GO', type: 'scatter', xAxisIndex: 2, yAxisIndex: 2, data: goData,
      encode: { x: 0, y: 1 },
      symbol: function (v) { return ['circle', 'triangle', 'rect'][v[3]]; },
      symbolSize: function (v) { return (2 + (v[4] - 4) * 0.8) * (v[3] === 1 ? 1.25 : v[3] === 2 ? 0.85 : 1); }
    },
    fSeries('Down', fDownData, NAVY),
    fSeries('Up', fUpData, CORAL)
  ]
};

const chart = echarts.init(document.getElementById('main'), null, { renderer: 'canvas' });
chart.setOption(option);
</script>
</body>
</html>
